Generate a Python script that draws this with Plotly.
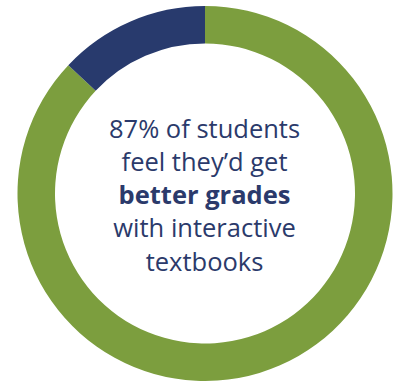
import plotly.graph_objects as go

labels = ["Better grades", "Would not"]
values = [87, 13]
colors = ["#7c9e3e", "#283a6d"]
center_lines = ["87% of students", "feel they’d get", "<b>better grades</b>", "with interactive", "textbooks"]

fig = go.Figure(go.Pie(
    labels=labels,
    values=values,
    hole=0.80,
    sort=False,
    direction="clockwise",
    rotation=0,
    marker=dict(colors=colors, line=dict(width=0)),
    textinfo="none",
    hoverinfo="skip",
    showlegend=False,
    domain=dict(x=[17/398, 393/398], y=[0, 375/381]),
))

fig.add_annotation(
    text="<br>".join(center_lines),
    x=205/398, y=1 - 194/381, xref="paper", yref="paper",
    showarrow=False,
    font=dict(family="Open Sans", size=25.5, color="#2b3a6b"),
    align="center",
)

fig.update_layout(
    width=398, height=381,
    margin=dict(l=0, r=0, t=0, b=0),
    paper_bgcolor="white",
    plot_bgcolor="white",
)

fig.write_html("out.html")
